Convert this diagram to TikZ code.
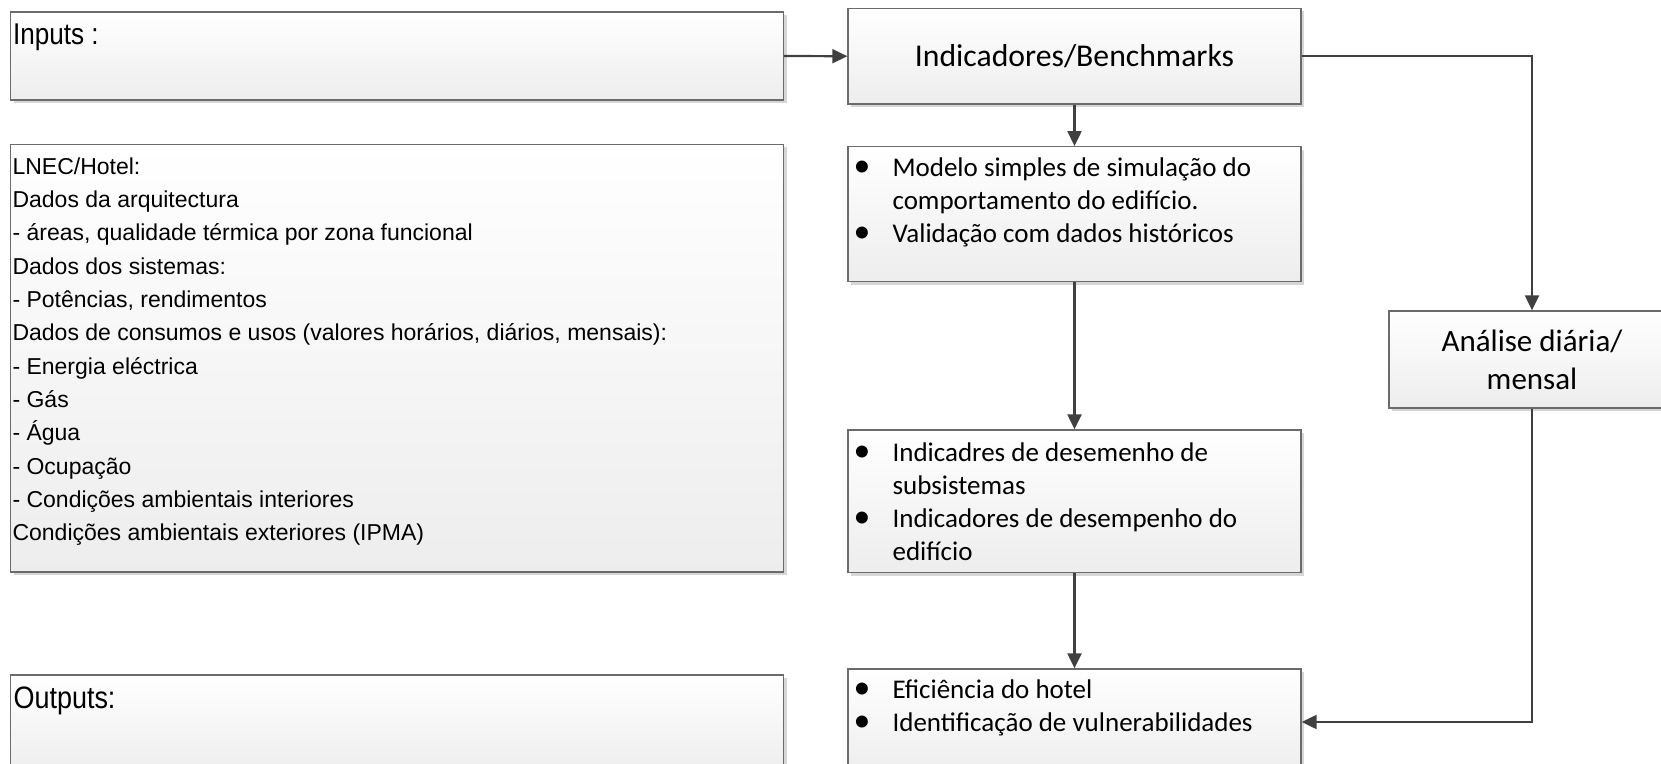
\documentclass[tikz,border=0pt]{standalone}
\usepackage{fontspec}
\setmainfont{Liberation Sans}
\newfontfamily\calibri{Carlito}
\usetikzlibrary{arrows.meta,shadows}

\tikzset{
  panel/.style={draw=black!58, line width=1.3pt, top color=white, bottom color=black!7,
    drop shadow={shadow xshift=3pt, shadow yshift=-3pt, fill=black!16, opacity=1},
    inner sep=0pt, minimum width=773pt},
  stagebox/.style={panel, minimum width=453pt},
  lefttxt/.style={anchor=base west, inner sep=0pt},
  itemtxt/.style={anchor=base west, inner sep=0pt, font=\calibri\fontsize{27}{33}\selectfont},
  flow/.style={draw=black!75, line width=2.2pt, -{Triangle[length=15pt,width=14pt]}},
}
\newcommand{\bul}{\raisebox{-0.5pt}{\scalebox{1.25}{\textbullet}}}
\newcommand{\narrow}[1]{\scalebox{0.87}[1]{#1}}

\begin{document}
\begin{tikzpicture}[x=1pt,y=1pt]

\path[use as bounding box, clip] (0,0) rectangle (1661,763);

% Left column
\node[panel, minimum height=88pt] (inputs) at (397,707) {};
\node[panel, minimum height=427.5pt] (lnec) at (397,404.75) {};
\node[panel, minimum height=100pt] (outputs) at (397,38) {};

\node[lefttxt, font=\fontsize{30}{36}\selectfont] (inputs-txt)
  at ([shift={(3,-33)}]inputs.north west) {\narrow{Inputs :}};
\node[lefttxt, font=\fontsize{23}{33.3}\selectfont] (lnec-txt)
  at ([shift={(2.5,-30.5)}]lnec.north west) {\begin{tabular}[t]{@{}l@{}}
LNEC/Hotel:\\
Dados da arquitectura\\
- áreas, qualidade térmica por zona funcional\\
Dados dos sistemas:\\
- Potências, rendimentos\\
Dados de consumos e usos (valores horários, diários, mensais):\\
- Energia eléctrica\\
- Gás\\
- Água\\
- Ocupação\\
- Condições ambientais interiores\\
Condições ambientais exteriores (IPMA)
\end{tabular}};
\node[lefttxt, font=\fontsize{31}{36}\selectfont] (outputs-txt)
  at ([shift={(3.5,-34)}]outputs.north west) {\narrow{Outputs:}};

% Central column
\node[stagebox, minimum height=95.5pt, font=\calibri\fontsize{31.7}{36}\selectfont] (bench)
  at (1074.5,706.75) {Indicadores/Benchmarks};
\node[stagebox, minimum height=135pt] (model) at (1074.5,548.8) {};
\node[stagebox, minimum height=142.7pt] (perf) at (1074.5,261.65) {};
\node[stagebox, minimum height=106pt] (eff) at (1074.5,41) {};

\node[itemtxt] (model-txt) at ([shift={(6,-30)}]model.north west) {\begin{tabular}[t]{@{}p{39pt}@{}l@{}}
\bul & Modelo simples de simulação do\\
     & comportamento do edifício.\\
\bul & Validação com dados históricos
\end{tabular}};
\node[itemtxt] (perf-txt) at ([shift={(6,-32)}]perf.north west) {\begin{tabular}[t]{@{}p{39pt}@{}l@{}}
\bul & Indicadres de desemenho de\\
     & subsistemas\\
\bul & Indicadores de desempenho do\\
     & edifício
\end{tabular}};
\node[itemtxt] (eff-txt) at ([shift={(6,-30)}]eff.north west) {\begin{tabular}[t]{@{}p{39pt}@{}l@{}}
\bul & Eficiência do hotel\\
\bul & Identificação de vulnerabilidades
\end{tabular}};

% Right column
\node[panel, minimum width=286pt, minimum height=97pt, align=center,
  font=\calibri\fontsize{31}{38}\selectfont] (daily) at (1532,403.5) {Análise diária/\\mensal};

% Connectors
\draw[flow] (inputs.east) -- (bench.west);
\draw[flow] (bench.south) -- (model.north);
\draw[flow] (model.south) -- (perf.north);
\draw[flow] (perf.south) -- (eff.north);
\draw[flow] (bench.east) -| (daily.north);
\draw[flow] (daily.south) |- (eff.east);

\end{tikzpicture}
\end{document}
